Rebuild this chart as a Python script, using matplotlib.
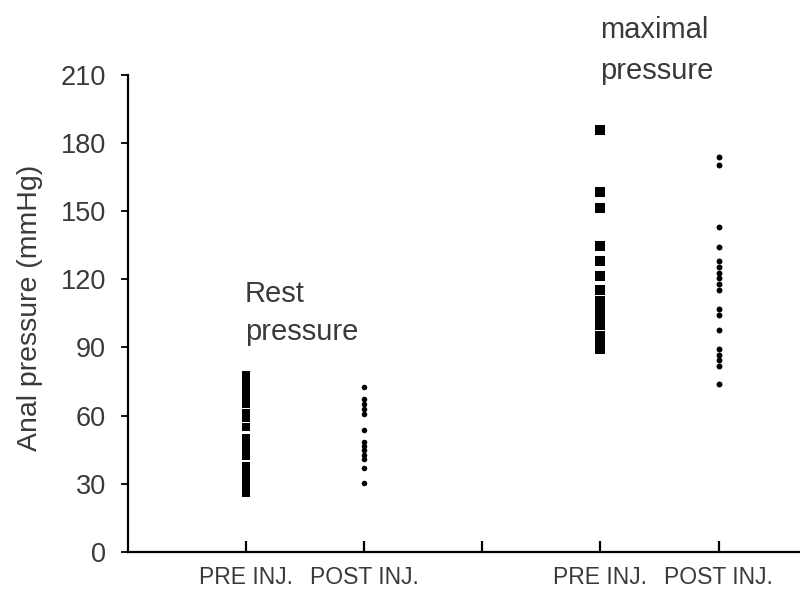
import matplotlib.pyplot as plt
import numpy as np

plt.rcParams['font.family'] = ['Liberation Sans', 'DejaVu Sans']

# values (mmHg)
rest_pre = [78, 77, 76, 75, 74, 73, 72, 71, 70, 69, 68, 67, 66, 65,
            61, 59, 55, 50, 48, 46, 44, 43, 42, 38, 36, 34, 32, 30, 28, 27, 26]
rest_post = [72.6, 67.1, 65.3, 63.1, 60.9, 53.6, 48.4, 46.6, 44.8, 42.6,
             40.7, 36.8, 30.2]
max_pre = [185.8, 158.2, 151.2, 134.6, 128, 121.4, 115.4, 110.6, 108, 106,
           104, 102, 100, 95, 93, 91, 89.5]
max_post = [173.9, 170.4, 143.2, 134.4, 128, 125.3, 122.9, 120.5, 118.1,
            115.4, 107.1, 104.1, 97.5, 89.5, 86.5, 84.3, 81.7, 73.7]

x_pos = [1, 2, 4, 5]
x_labels = ['PRE INJ.', 'POST INJ.', 'PRE INJ.', 'POST INJ.']
y_ticks = [0, 30, 60, 90, 120, 150, 180, 210]
txt = '#3a3a3a'

fig = plt.figure(figsize=(8, 5.94), dpi=100)
ax = fig.add_axes([0.16, 0.071, 0.84, 0.803])

ax.scatter([x_pos[0]] * len(rest_pre), rest_pre, marker='s', s=40, c='black', linewidths=0)
ax.scatter([x_pos[1]] * len(rest_post), rest_post, marker='o', s=16, c='black', linewidths=0)
ax.scatter([x_pos[2]] * len(max_pre), max_pre, marker='s', s=48, c='black', linewidths=0)
ax.scatter([x_pos[3]] * len(max_post), max_post, marker='o', s=18, c='black', linewidths=0)

ax.set_xlim(0, 5.69)
ax.set_ylim(0, 210)
ax.set_yticks(y_ticks)
ax.set_xticks([1, 2, 3, 4, 5])
ax.set_xticklabels([x_labels[0], x_labels[1], '', x_labels[2], x_labels[3]])

for s in ['top', 'right']:
    ax.spines[s].set_visible(False)
ax.spines['left'].set_linewidth(1.6)
ax.spines['bottom'].set_linewidth(1.6)

ax.tick_params(axis='y', direction='out', length=5, width=1.3, labelsize=19.5,
               labelcolor=txt, pad=11)
ax.tick_params(axis='x', direction='in', length=8, width=1.6, labelsize=16.5,
               labelcolor=txt, pad=10)

fig.text(30 / 800, 1 - 308 / 594, 'Anal pressure (mmHg)', fontsize=20.5, color=txt,
         rotation=90, ha='center', va='center')

ax.text(0.99, 109.8, 'Rest', fontsize=21, color=txt, ha='left', va='baseline')
ax.text(0.99, 93.1, 'pressure', fontsize=21, color=txt, ha='left', va='baseline')
ax.text(4.0, 226.2, 'maximal', fontsize=21, color=txt, ha='left', va='baseline', clip_on=False)
ax.text(4.0, 208.2, 'pressure', fontsize=21, color=txt, ha='left', va='baseline', clip_on=False)

plt.savefig('out.png', dpi=100)
